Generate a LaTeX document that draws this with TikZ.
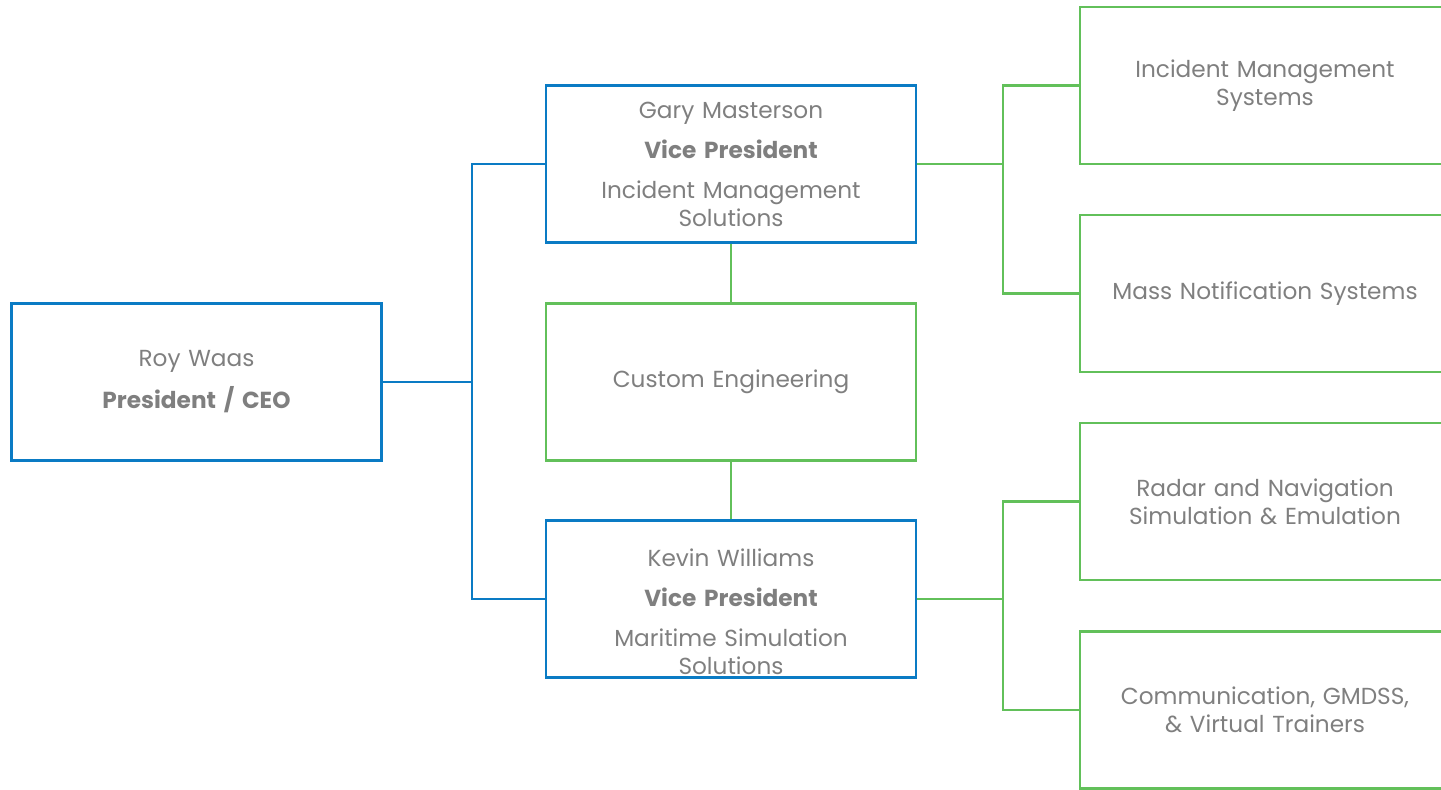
\documentclass[tikz,border=0pt]{standalone}
\usepackage{fontspec}
\setmainfont{Poppins}
\usetikzlibrary{positioning}
\definecolor{orgblue}{HTML}{0A7BC4}
\definecolor{orggreen}{HTML}{62C05A}
\definecolor{textgray}{HTML}{7F7F7F}
\begin{document}
\begin{tikzpicture}[x=0.5pt,y=-0.5pt,
    box/.style={draw, line width=1.1pt, minimum width=185pt, minimum height=78.5pt,
      inner sep=0pt, text width=182pt, align=center, text=textgray,
      font=\fontsize{11.6}{14}\selectfont},
    head/.style={box, draw=orgblue},
    unit/.style={box, draw=orggreen},
    blueline/.style={orgblue, line width=1.1pt},
    greenline/.style={orggreen, line width=1.1pt}]
    \useasboundingbox (0,0) rectangle (1441,789);
    \clip (0,0) rectangle (1441,789);
    % people
    \node[head] (roy) at (196.5,382) {Roy Waas\\[6pt]\textbf{President / CEO}};
    \node[head] (gary) at (731,164) {Gary Masterson\\[6pt]\textbf{Vice President}\\[6pt]Incident Management\\Solutions};
    \node[unit] (custom) at (731,382) {Custom Engineering};
    \node[head] (kevin) at (731,599) {\raisebox{0pt}[22pt]{Kevin Williams}\\[6pt]\textbf{Vice President}\\[6pt]Maritime Simulation\\Solutions};
    % groups
    \node[unit] (ims) at (1265,85.5) {Incident Management\\Systems};
    \node[unit] (mns) at (1265,293.5) {Mass Notification Systems};
    \node[unit] (radar) at (1265,501.5) {Radar and Navigation\\Simulation \& Emulation};
    \node[unit] (comm) at (1265,710) {Communication, GMDSS,\\\& Virtual Trainers};
    % blue tree
    \draw[blueline] (roy.east) -- (472,382) coordinate (rj);
    \draw[blueline] (rj) |- (gary.west);
    \draw[blueline] (rj) |- (kevin.west);
    % green links
    \draw[greenline] (gary.south) -- (custom.north);
    \draw[greenline] (custom.south) -- (kevin.north);
    \draw[greenline] (gary.east) -- (1003,164) coordinate (gj);
    \draw[greenline] (gj) |- (ims.west);
    \draw[greenline] (gj) |- (mns.west);
    \draw[greenline] (kevin.east) -- (1003,599) coordinate (kj);
    \draw[greenline] (kj) |- (radar.west);
    \draw[greenline] (kj) |- (comm.west);
\end{tikzpicture}
\end{document}
